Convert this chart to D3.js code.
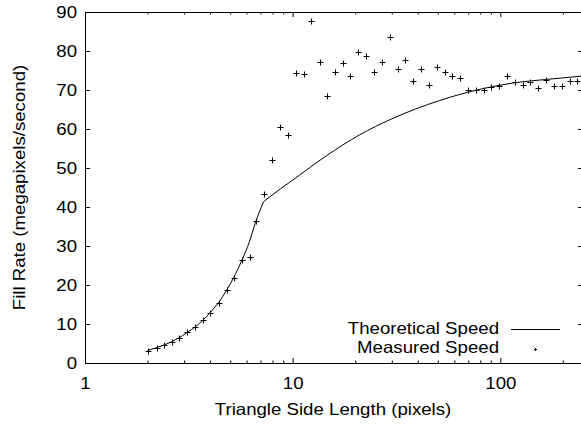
<!DOCTYPE html>
<html>
<head>
<meta charset="utf-8">
<script src="https://cdn.jsdelivr.net/npm/d3@7"></script>
<style>
  body { margin: 0; background: #fff; }
</style>
</head>
<body>
<script>
// measured points (triangle side length, fill rate)
const measuredX = [2.0, 2.21, 2.4, 2.61, 2.82, 3.11, 3.4, 3.7, 4.0, 4.4, 4.81, 5.22, 5.7, 6.21, 6.64,
  7.27, 7.99, 8.69, 9.49, 10.37, 11.3, 12.3, 13.5, 14.7, 16.0, 17.4, 18.9, 20.7, 22.6, 24.7,
  26.9, 29.3, 32.0, 34.9, 38.1, 41.7, 45.3, 49.5, 53.9, 58.7, 63.9, 69.8, 76.3, 83.1, 90.5,
  98.5, 107.6, 117.6, 128, 139.4, 152.4, 166.5, 181, 198, 216, 235];
const measuredY = [3.15, 3.85, 4.6, 5.4, 6.3, 7.85, 9.3, 11.1, 12.9, 15.5, 18.7, 21.9, 26.4, 27.3, 36.5,
  43.3, 52.0, 60.6, 58.5, 74.4, 74.2, 87.6, 77.2, 68.4, 74.5, 76.9, 73.5, 79.7, 78.7, 74.5,
  77.2, 83.5, 75.5, 77.7, 72.3, 75.5, 71.4, 76.0, 74.5, 73.7, 73.2, 69.9, 69.9, 70.1, 70.8,
  71.0, 73.7, 72.1, 71.3, 72.0, 70.5, 72.6, 71.1, 71.1, 72.4, 72.2];

// theoretical curve, kink at 7.25
const theoLowX = [2.0, 2.2, 2.4, 2.6, 2.8, 3.1, 3.4, 3.7, 4.0, 4.4, 4.8, 5.2, 5.7, 6.2, 6.6, 7.25];
const theoLowY = [3.2, 3.9, 4.6, 5.4, 6.3, 7.8, 9.3, 11.0, 12.9, 15.5, 18.6, 21.9, 26.4, 31.2, 35.8, 41.4];
const theoHighX = [7.25, 8.7, 10, 14.5, 21, 30, 51, 80, 115, 166, 250];
const theoHighY = [41.4, 44.6, 46.9, 53.1, 58.5, 62.6, 67.3, 70.2, 71.8, 72.7, 73.6];

const xMajor = [1, 10, 100];
const xMinor = [2, 3, 4, 5, 6, 7, 8, 9, 20, 30, 40, 50, 60, 70, 80, 90, 200];
const yTicks = [0, 10, 20, 30, 40, 50, 60, 70, 80, 90];
const seriesNames = ["Theoretical Speed", "Measured Speed"];

const width = 581, height = 425;
const font = "'Liberation Sans', Arial, Helvetica, sans-serif";
const stretch = "scale(1.13,1)"; // the original font runs a bit wider than Arial

const svg = d3.create("svg")
  .attr("width", width)
  .attr("height", height)
  .attr("viewBox", [0, 0, width, height])
  .style("font-family", font)
  .style("font-size", "16.5px");

const x = d3.scaleLog().domain([1, 250]).range([85, 583]);
const y = d3.scaleLinear().domain([0, 90]).range([363, 12]);

function styleAxis(g) {
  g.attr("font-family", null).attr("font-size", null);
  g.select(".domain").remove();
  g.selectAll("line").attr("stroke", "#000");
  g.selectAll("text").attr("fill", "#000").attr("transform", stretch);
}

// bottom
svg.append("g").attr("transform", `translate(0,${y(0)})`)
  .call(d3.axisBottom(x).tickValues(xMajor).tickSize(-5).tickPadding(14).tickFormat(d3.format("d")))
  .call(styleAxis);
svg.append("g").attr("transform", `translate(0,${y(0)})`)
  .call(d3.axisBottom(x).tickValues(xMinor).tickSize(-2.5).tickFormat(""))
  .call(styleAxis);
// top
svg.append("g").attr("transform", `translate(0,${y(90)})`)
  .call(d3.axisTop(x).tickValues(xMajor).tickSize(-5).tickFormat(""))
  .call(styleAxis);
svg.append("g").attr("transform", `translate(0,${y(90)})`)
  .call(d3.axisTop(x).tickValues(xMinor).tickSize(-2.5).tickFormat(""))
  .call(styleAxis);
// left / right
svg.append("g").attr("transform", `translate(${x(1)},0)`)
  .call(d3.axisLeft(y).tickValues(yTicks).tickSize(-5).tickPadding(7))
  .call(styleAxis);
svg.append("g").attr("transform", `translate(${x(250)},0)`)
  .call(d3.axisRight(y).tickValues(yTicks).tickSize(-5).tickFormat(""))
  .call(styleAxis);

// frame
const [x0, x1] = x.range(), [yb, yt] = y.range();
svg.append("path")
  .attr("d", `M${x1 + 0.5},${yt + 0.5}H${x0 + 0.5}V${yb + 0.5}H${x1 + 0.5}V${yt + 0.5}`)
  .attr("fill", "none")
  .attr("stroke", "#000");

// theoretical line
const line = d3.line()
  .x(d => x(d[0]))
  .y(d => y(d[1]))
  .curve(d3.curveMonotoneX);

[[theoLowX, theoLowY], [theoHighX, theoHighY]].forEach(([xs, ys]) => {
  svg.append("path")
    .attr("d", line(xs.map((v, i) => [v, ys[i]])))
    .attr("fill", "none")
    .attr("stroke", "#000")
    .attr("stroke-width", 1);
});

// measured points as '+'
const plus = d3.path();
const s = 3;
measuredX.forEach((v, i) => {
  const px = Math.round(x(v)) + 0.5, py = Math.round(y(measuredY[i])) + 0.5;
  plus.moveTo(px - s, py); plus.lineTo(px + s, py);
  plus.moveTo(px, py - s); plus.lineTo(px, py + s);
});
svg.append("path").attr("d", plus.toString()).attr("stroke", "#000").attr("fill", "none");

// legend
const legend = svg.append("g");
legend.selectAll("text").data(seriesNames).join("text")
  .attr("transform", (d, i) => `translate(499,${333.5 + i * 19}) ${stretch}`)
  .attr("text-anchor", "end")
  .text(d => d);
legend.append("line")
  .attr("x1", 511).attr("x2", 560)
  .attr("y1", 329.5).attr("y2", 329.5)
  .attr("stroke", "#000");
legend.append("path")
  .attr("d", "M534,349.5h3M535.5,348v3")
  .attr("stroke", "#000");

// axis titles
svg.append("text")
  .attr("transform", `translate(${(x0 + x1) / 2 - 1},415) ${stretch}`)
  .attr("text-anchor", "middle")
  .text("Triangle Side Length (pixels)");
svg.append("text")
  .attr("transform", `translate(25,${(yb + yt) / 2}) rotate(-90) ${stretch}`)
  .attr("text-anchor", "middle")
  .text("Fill Rate (megapixels/second)");

d3.select("body").append(() => svg.node());
</script>
</body>
</html>
